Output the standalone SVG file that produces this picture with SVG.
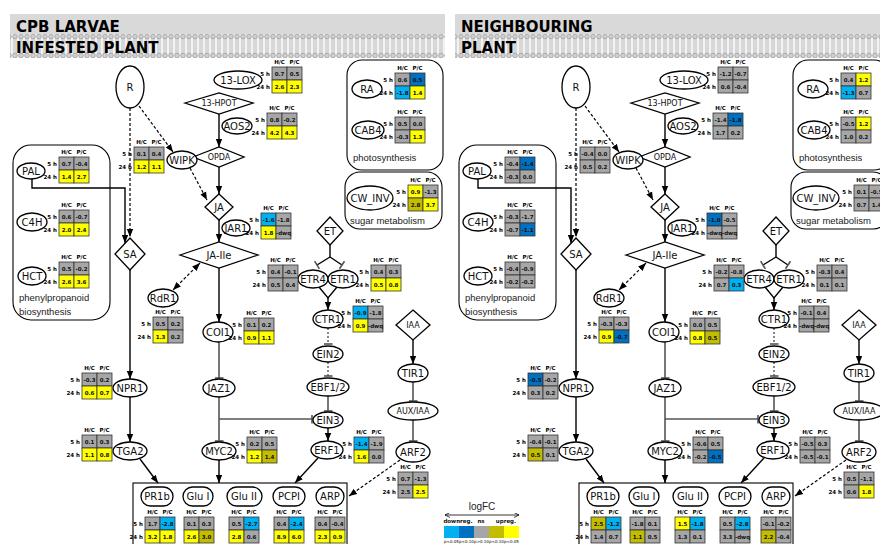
<svg xmlns="http://www.w3.org/2000/svg" width="880" height="544" viewBox="0 0 880 544">
<defs>
<style>
.nd{fill:#fff;stroke:#000;stroke-width:1.3}
.nl{font-family:"DejaVu Sans",Verdana,sans-serif;font-size:10px;text-anchor:middle;fill:#111}
.ns{font-family:"DejaVu Sans",Verdana,sans-serif;font-size:8px;text-anchor:middle;fill:#111}
.bx{fill:none;stroke:#000;stroke-width:1.1}
.bl{font-family:"Liberation Sans",Arial,sans-serif;font-size:9.5px;fill:#222}
.ttl{font-family:"DejaVu Sans",Verdana,sans-serif;font-size:15px;font-weight:bold;fill:#000}
.hd{font-family:"DejaVu Sans",Verdana,sans-serif;font-size:5.5px;font-weight:bold;text-anchor:middle;fill:#000}
.rl{font-family:"DejaVu Sans",Verdana,sans-serif;font-size:5.5px;font-weight:bold;text-anchor:end;fill:#000}
.v{font-family:"DejaVu Sans",Verdana,sans-serif;font-size:5.5px;font-weight:bold;text-anchor:middle;fill:#111}
.g{fill:#a6a6a6;stroke:#333;stroke-width:0.8}
.y{fill:#ffff00;stroke:#333;stroke-width:0.8}
.o{fill:#c4bc00;stroke:#333;stroke-width:0.8}
.lb{fill:#00b0f0;stroke:#333;stroke-width:0.8}
.db{fill:#0070c0;stroke:#333;stroke-width:0.8}
.ln{fill:none;stroke:#000;stroke-width:1.4}
.ds{fill:none;stroke:#000;stroke-width:1.2;stroke-dasharray:3 2}
.ih{fill:none;stroke:#555;stroke-width:1.6}
.ihd{fill:none;stroke:#555;stroke-width:1.4;stroke-dasharray:2 2}
.a{marker-end:url(#ar)}
.t{marker-end:url(#tb)}
</style>
<marker id="ar" viewBox="0 0 10 10" refX="10" refY="5" markerWidth="8" markerHeight="8" markerUnits="userSpaceOnUse" orient="auto-start-reverse"><path d="M0,1 L10,5 L0,9 z" fill="#000"/></marker>
<marker id="tb" viewBox="0 0 10 10" refX="5" refY="5" markerWidth="9" markerHeight="9" markerUnits="userSpaceOnUse" orient="auto"><path d="M5,0 V10" stroke="#555" stroke-width="1.8"/></marker>
<marker id="lar" viewBox="0 0 10 10" refX="10" refY="5" markerWidth="5" markerHeight="5" markerUnits="userSpaceOnUse" orient="auto-start-reverse"><path d="M0,0 L10,5 L0,10" fill="none" stroke="#000" stroke-width="1.5"/></marker>
<pattern id="mem" width="6" height="24" patternUnits="userSpaceOnUse" x="0" y="34">
<rect width="6" height="24" fill="#f2f2f2"/>
<line x1="2" y1="4" x2="2" y2="20" stroke="#b0b0b0" stroke-width="0.8"/>
<line x1="4" y1="4" x2="4" y2="20" stroke="#b0b0b0" stroke-width="0.8"/>
<circle cx="3" cy="2.5" r="2.3" fill="#d0d0d0" stroke="#8a8a8a" stroke-width="0.6"/>
<circle cx="3" cy="21.5" r="2.3" fill="#d0d0d0" stroke="#8a8a8a" stroke-width="0.6"/>
</pattern>
</defs>
<rect width="880" height="544" fill="#fff"/>

<!-- ================= LEFT PANEL ================= -->
<g id="panel-infested">
<g id="L-header">
<rect x="10" y="14" width="435" height="20" fill="#d9d9d9"/>
<rect x="10" y="34" width="435" height="24" fill="url(#mem)"/>
<text class="ttl" x="16" y="32">CPB LARVAE</text>
<text class="ttl" x="16" y="53">INFESTED PLANT</text>
</g>
<g id="L-boxes">
<rect class="bx" x="13" y="145" width="97" height="175" rx="18"/>
<text class="bl" x="19" y="301">phenylpropanoid</text>
<text class="bl" x="19" y="315">biosynthesis</text>
<rect class="bx" x="347" y="60" width="96" height="110" rx="15"/>
<text class="bl" x="353" y="161">photosynthesis</text>
<rect class="bx" x="345" y="172" width="97" height="57" rx="15"/>
<text class="bl" x="350" y="224">sugar metabolism</text>
<rect class="bx" x="133" y="483" width="214" height="75"/>
</g>
<g id="L-connectors">
<path class="ds a" d="M139,106 L173,152"/>
<path class="ds a" d="M130,108 V237"/>
<path class="ln a" d="M32,179 V188 H125 V243"/>
<path class="ds a" d="M190,168 L207,200"/>
<path class="ln a" d="M219,114 V147"/>
<path class="ln a" d="M219,167 V194"/>
<path class="ln a" d="M219,220 V242"/>
<path class="ln a" d="M219,268 V322"/>
<path class="ih t" d="M219,342 V378"/>
<path class="ih t" d="M219,397 V441"/>
<path class="ih t" d="M219,419 H312"/>
<path class="ln a" d="M219,460 V483"/>
<path class="ds a" d="M200,263 L173,290" style="marker-start:url(#ar)"/>
<path class="ln a" d="M130,270 V379"/>
<path class="ln a" d="M130,397 V442"/>
<path class="ln a" d="M140,459 L158,483"/>
<path class="ln" d="M330,245 V257"/>
<path class="ln t" d="M330,257 L317,265"/>
<path class="ln t" d="M330,257 L342,265"/>
<path class="ln" d="M319,287 L328,298 L337,287"/>
<path class="ln a" d="M328,297 V310"/>
<path class="ihd t" d="M328,328 V344"/>
<path class="ihd t" d="M328,362 V376"/>
<path class="ih t" d="M328,396 V411"/>
<path class="ln a" d="M328,428 V441"/>
<path class="ln a" d="M318,458 L295,483"/>
<path class="ln a" d="M413,340 V364"/>
<path class="ih t" d="M413,382 V401"/>
<path class="ih t" d="M413,420 V441"/>
<path class="ds a" d="M400,460 L349,496"/>
</g>
<g id="L-R"><ellipse class="nd" cx="130" cy="87" rx="14" ry="21"/><text class="nl" x="130" y="91">R</text></g>
<g id="L-13LOX"><ellipse class="nd" cx="238" cy="80" rx="24" ry="9"/><text class="nl" x="238" y="84">13-LOX</text></g>
<g id="L-13HPOT"><polygon class="nd" points="185,103 219,93 253,103 219,114"/><text class="ns" x="219" y="106">13-HPOT</text></g>
<g id="L-AOS2"><ellipse class="nd" cx="237" cy="126" rx="15" ry="8"/><text class="nl" x="237" y="130">AOS2</text></g>
<g id="L-OPDA"><polygon class="nd" points="193,157 219,147 244,157 219,167"/><text class="ns" x="219" y="160">OPDA</text></g>
<g id="L-WIPK"><ellipse class="nd" cx="182" cy="160" rx="15" ry="9"/><text class="nl" x="182" y="164">WIPK</text></g>
<g id="L-JA"><polygon class="nd" points="219,194 233,207 219,220 205,207"/><text class="nl" x="219" y="211">JA</text></g>
<g id="L-JAR1"><ellipse class="nd" cx="236" cy="228" rx="14" ry="8"/><text class="nl" x="236" y="232">JAR1</text></g>
<g id="L-JAIle"><polygon class="nd" points="180,255 219,242 258,255 219,268"/><text class="nl" x="219" y="259">JA-Ile</text></g>
<g id="L-ET"><polygon class="nd" points="330,217 343,231 330,245 317,231"/><text class="nl" x="330" y="235">ET</text></g>
<g id="L-ETR4"><ellipse class="nd" cx="313" cy="279" rx="15" ry="9"/><text class="nl" x="313" y="283">ETR4</text></g>
<g id="L-ETR1"><ellipse class="nd" cx="343" cy="279" rx="15" ry="9"/><text class="nl" x="343" y="283">ETR1</text></g>
<g id="L-CTR1"><ellipse class="nd" cx="328" cy="319" rx="15" ry="9"/><text class="nl" x="328" y="323">CTR1</text></g>
<g id="L-IAA"><polygon class="nd" points="413,310 430,325 413,340 396,325"/><text class="ns" x="413" y="328">IAA</text></g>
<g id="L-COI1"><ellipse class="nd" cx="218" cy="332" rx="15" ry="10"/><text class="nl" x="218" y="336">COI1</text></g>
<g id="L-RdR1"><ellipse class="nd" cx="163" cy="298" rx="15" ry="9"/><text class="nl" x="163" y="302">RdR1</text></g>
<g id="L-SA"><polygon class="nd" points="130,238 145,254 130,270 115,254"/><text class="nl" x="130" y="258">SA</text></g>
<g id="L-PAL"><ellipse class="nd" cx="31" cy="171" rx="14" ry="8"/><text class="nl" x="31" y="175">PAL</text></g>
<g id="L-C4H"><ellipse class="nd" cx="32" cy="222" rx="15" ry="9"/><text class="nl" x="32" y="226">C4H</text></g>
<g id="L-HCT"><ellipse class="nd" cx="32" cy="276" rx="14" ry="9"/><text class="nl" x="32" y="280">HCT</text></g>
<g id="L-RA"><ellipse class="nd" cx="367" cy="89" rx="15" ry="9"/><text class="nl" x="367" y="93">RA</text></g>
<g id="L-CAB4"><ellipse class="nd" cx="368" cy="130" rx="16" ry="9"/><text class="nl" x="368" y="134">CAB4</text></g>
<g id="L-CWINV"><ellipse class="nd" cx="370" cy="198" rx="23" ry="12"/><text class="nl" x="370" y="202">CW_INV</text></g>
<g id="L-NPR1"><ellipse class="nd" cx="130" cy="388" rx="17" ry="9"/><text class="nl" x="130" y="392">NPR1</text></g>
<g id="L-TGA2"><ellipse class="nd" cx="130" cy="451" rx="17" ry="9"/><text class="nl" x="130" y="455">TGA2</text></g>
<g id="L-JAZ1"><ellipse class="nd" cx="219" cy="388" rx="16" ry="9"/><text class="nl" x="219" y="392">JAZ1</text></g>
<g id="L-MYC2"><ellipse class="nd" cx="219" cy="451" rx="17" ry="9"/><text class="nl" x="219" y="455">MYC2</text></g>
<g id="L-EIN2"><ellipse class="nd" cx="328" cy="354" rx="15" ry="8"/><text class="nl" x="328" y="358">EIN2</text></g>
<g id="L-EBF12"><ellipse class="nd" cx="328" cy="387" rx="21" ry="9"/><text class="nl" x="328" y="391">EBF1/2</text></g>
<g id="L-EIN3"><ellipse class="nd" cx="328" cy="420" rx="15" ry="8"/><text class="nl" x="328" y="424">EIN3</text></g>
<g id="L-ERF1"><ellipse class="nd" cx="327" cy="450" rx="16" ry="9"/><text class="nl" x="327" y="454">ERF1</text></g>
<g id="L-TIR1"><ellipse class="nd" cx="413" cy="373" rx="15" ry="9"/><text class="nl" x="413" y="377">TIR1</text></g>
<g id="L-AUXIAA"><ellipse class="nd" cx="413" cy="411" rx="25" ry="9"/><text class="ns" x="413" y="414">AUX/IAA</text></g>
<g id="L-ARF2"><ellipse class="nd" cx="413" cy="452" rx="17" ry="10"/><text class="nl" x="413" y="456">ARF2</text></g>
<g id="L-PR1b"><rect class="nd" x="141" y="487" width="32" height="19" rx="9.5"/><text class="nl" x="157" y="500">PR1b</text></g>
<g id="L-GluI"><rect class="nd" x="183" y="487" width="30" height="19" rx="9.5"/><text class="nl" x="198" y="500">Glu I</text></g>
<g id="L-GluII"><rect class="nd" x="227" y="487" width="35" height="19" rx="9.5"/><text class="nl" x="244" y="500">Glu II</text></g>
<g id="L-PCPI"><rect class="nd" x="273" y="487" width="32" height="19" rx="9.5"/><text class="nl" x="289" y="500">PCPI</text></g>
<g id="L-ARP"><rect class="nd" x="316" y="487" width="28" height="19" rx="9.5"/><text class="nl" x="330" y="500">ARP</text></g>

<g id="L-tables">
<g transform="translate(134,147)"><text class="hd" x="7.5" y="-3">H/C</text><text class="hd" x="22.5" y="-3">P/C</text><text class="rl" x="-2" y="9">5 h</text><text class="rl" x="-2" y="22">24 h</text><rect class="g" width="15" height="13"/><rect class="g" x="15" width="15" height="13"/><rect class="y" y="13" width="15" height="13"/><rect class="y" x="15" y="13" width="15" height="13"/><text class="v" x="7.5" y="9">0.1</text><text class="v" x="22.5" y="9">0.4</text><text class="v" x="7.5" y="22">1.2</text><text class="v" x="22.5" y="22">1.1</text></g>
<g transform="translate(272,67)"><text class="hd" x="7.5" y="-3">H/C</text><text class="hd" x="22.5" y="-3">P/C</text><text class="rl" x="-2" y="9">5 h</text><text class="rl" x="-2" y="22">24 h</text><rect class="g" width="15" height="13"/><rect class="g" x="15" width="15" height="13"/><rect class="y" y="13" width="15" height="13"/><rect class="y" x="15" y="13" width="15" height="13"/><text class="v" x="7.5" y="9">0.7</text><text class="v" x="22.5" y="9">0.5</text><text class="v" x="7.5" y="22">2.6</text><text class="v" x="22.5" y="22">2.3</text></g>
<g transform="translate(267,113)"><text class="hd" x="7.5" y="-3">H/C</text><text class="hd" x="22.5" y="-3">P/C</text><text class="rl" x="-2" y="9">5 h</text><text class="rl" x="-2" y="22">24 h</text><rect class="g" width="15" height="13"/><rect class="g" x="15" width="15" height="13"/><rect class="y" y="13" width="15" height="13"/><rect class="y" x="15" y="13" width="15" height="13"/><text class="v" x="7.5" y="9">0.8</text><text class="v" x="22.5" y="9">-0.2</text><text class="v" x="7.5" y="22">4.2</text><text class="v" x="22.5" y="22">4.3</text></g>
<g transform="translate(395,73)"><text class="hd" x="7.5" y="-3">H/C</text><text class="hd" x="22.5" y="-3">P/C</text><text class="rl" x="-2" y="9">5 h</text><text class="rl" x="-2" y="22">24 h</text><rect class="g" width="15" height="13"/><rect class="db" x="15" width="15" height="13"/><rect class="lb" y="13" width="15" height="13"/><rect class="y" x="15" y="13" width="15" height="13"/><text class="v" x="7.5" y="9">0.6</text><text class="v" x="22.5" y="9">0.5</text><text class="v" x="7.5" y="22">-1.8</text><text class="v" x="22.5" y="22">1.4</text></g>
<g transform="translate(395,117)"><text class="hd" x="7.5" y="-3">H/C</text><text class="hd" x="22.5" y="-3">P/C</text><text class="rl" x="-2" y="9">5 h</text><text class="rl" x="-2" y="22">24 h</text><rect class="g" width="15" height="13"/><rect class="g" x="15" width="15" height="13"/><rect class="g" y="13" width="15" height="13"/><rect class="y" x="15" y="13" width="15" height="13"/><text class="v" x="7.5" y="9">0.5</text><text class="v" x="22.5" y="9">0.0</text><text class="v" x="7.5" y="22">-0.3</text><text class="v" x="22.5" y="22">1.3</text></g>
<g transform="translate(408,185)"><text class="hd" x="7.5" y="-3">H/C</text><text class="hd" x="22.5" y="-3">P/C</text><text class="rl" x="-2" y="9">5 h</text><text class="rl" x="-2" y="22">24 h</text><rect class="y" width="15" height="13"/><rect class="g" x="15" width="15" height="13"/><rect class="o" y="13" width="15" height="13"/><rect class="y" x="15" y="13" width="15" height="13"/><text class="v" x="7.5" y="9">0.9</text><text class="v" x="22.5" y="9">-1.3</text><text class="v" x="7.5" y="22">2.8</text><text class="v" x="22.5" y="22">3.7</text></g>
<g transform="translate(59,157)"><text class="hd" x="7.5" y="-3">H/C</text><text class="hd" x="22.5" y="-3">P/C</text><text class="rl" x="-2" y="9">5 h</text><text class="rl" x="-2" y="22">24 h</text><rect class="g" width="15" height="13"/><rect class="g" x="15" width="15" height="13"/><rect class="y" y="13" width="15" height="13"/><rect class="y" x="15" y="13" width="15" height="13"/><text class="v" x="7.5" y="9">0.7</text><text class="v" x="22.5" y="9">-0.4</text><text class="v" x="7.5" y="22">1.4</text><text class="v" x="22.5" y="22">2.7</text></g>
<g transform="translate(59,210)"><text class="hd" x="7.5" y="-3">H/C</text><text class="hd" x="22.5" y="-3">P/C</text><text class="rl" x="-2" y="9">5 h</text><text class="rl" x="-2" y="22">24 h</text><rect class="g" width="15" height="13"/><rect class="g" x="15" width="15" height="13"/><rect class="y" y="13" width="15" height="13"/><rect class="y" x="15" y="13" width="15" height="13"/><text class="v" x="7.5" y="9">0.6</text><text class="v" x="22.5" y="9">-0.7</text><text class="v" x="7.5" y="22">2.0</text><text class="v" x="22.5" y="22">2.4</text></g>
<g transform="translate(59,262)"><text class="hd" x="7.5" y="-3">H/C</text><text class="hd" x="22.5" y="-3">P/C</text><text class="rl" x="-2" y="9">5 h</text><text class="rl" x="-2" y="22">24 h</text><rect class="g" width="15" height="13"/><rect class="g" x="15" width="15" height="13"/><rect class="y" y="13" width="15" height="13"/><rect class="y" x="15" y="13" width="15" height="13"/><text class="v" x="7.5" y="9">0.5</text><text class="v" x="22.5" y="9">-0.2</text><text class="v" x="7.5" y="22">2.6</text><text class="v" x="22.5" y="22">3.6</text></g>
<g transform="translate(261,213)"><text class="hd" x="7.5" y="-3">H/C</text><text class="hd" x="22.5" y="-3">P/C</text><text class="rl" x="-2" y="9">5 h</text><text class="rl" x="-2" y="22">24 h</text><rect class="lb" width="15" height="13"/><rect class="g" x="15" width="15" height="13"/><rect class="y" y="13" width="15" height="13"/><rect class="g" x="15" y="13" width="15" height="13"/><text class="v" x="7.5" y="9">-1.6</text><text class="v" x="22.5" y="9">-1.8</text><text class="v" x="7.5" y="22">1.8</text><text class="v" x="22.5" y="22">-dwq</text></g>
<g transform="translate(268,265)"><text class="hd" x="7.5" y="-3">H/C</text><text class="hd" x="22.5" y="-3">P/C</text><text class="rl" x="-2" y="9">5 h</text><text class="rl" x="-2" y="22">24 h</text><rect class="g" width="15" height="13"/><rect class="g" x="15" width="15" height="13"/><rect class="g" y="13" width="15" height="13"/><rect class="g" x="15" y="13" width="15" height="13"/><text class="v" x="7.5" y="9">0.4</text><text class="v" x="22.5" y="9">-0.1</text><text class="v" x="7.5" y="22">0.5</text><text class="v" x="22.5" y="22">0.4</text></g>
<g transform="translate(371,265)"><text class="hd" x="7.5" y="-3">H/C</text><text class="hd" x="22.5" y="-3">P/C</text><text class="rl" x="-2" y="9">5 h</text><text class="rl" x="-2" y="22">24 h</text><rect class="g" width="15" height="13"/><rect class="g" x="15" width="15" height="13"/><rect class="y" y="13" width="15" height="13"/><rect class="y" x="15" y="13" width="15" height="13"/><text class="v" x="7.5" y="9">0.4</text><text class="v" x="22.5" y="9">0.3</text><text class="v" x="7.5" y="22">0.5</text><text class="v" x="22.5" y="22">0.8</text></g>
<g transform="translate(353,306)"><text class="hd" x="7.5" y="-3">H/C</text><text class="hd" x="22.5" y="-3">P/C</text><text class="rl" x="-2" y="9">5 h</text><text class="rl" x="-2" y="22">24 h</text><rect class="lb" width="15" height="13"/><rect class="g" x="15" width="15" height="13"/><rect class="y" y="13" width="15" height="13"/><rect class="g" x="15" y="13" width="15" height="13"/><text class="v" x="7.5" y="9">-0.9</text><text class="v" x="22.5" y="9">-1.8</text><text class="v" x="7.5" y="22">0.9</text><text class="v" x="22.5" y="22">-dwq</text></g>
<g transform="translate(244,318)"><text class="hd" x="7.5" y="-3">H/C</text><text class="hd" x="22.5" y="-3">P/C</text><text class="rl" x="-2" y="9">5 h</text><text class="rl" x="-2" y="22">24 h</text><rect class="g" width="15" height="13"/><rect class="g" x="15" width="15" height="13"/><rect class="y" y="13" width="15" height="13"/><rect class="y" x="15" y="13" width="15" height="13"/><text class="v" x="7.5" y="9">0.1</text><text class="v" x="22.5" y="9">0.2</text><text class="v" x="7.5" y="22">0.9</text><text class="v" x="22.5" y="22">1.1</text></g>
<g transform="translate(153,317)"><text class="hd" x="7.5" y="-3">H/C</text><text class="hd" x="22.5" y="-3">P/C</text><text class="rl" x="-2" y="9">5 h</text><text class="rl" x="-2" y="22">24 h</text><rect class="g" width="15" height="13"/><rect class="g" x="15" width="15" height="13"/><rect class="y" y="13" width="15" height="13"/><rect class="g" x="15" y="13" width="15" height="13"/><text class="v" x="7.5" y="9">0.5</text><text class="v" x="22.5" y="9">0.2</text><text class="v" x="7.5" y="22">1.3</text><text class="v" x="22.5" y="22">0.2</text></g>
<g transform="translate(82,373)"><text class="hd" x="7.5" y="-3">H/C</text><text class="hd" x="22.5" y="-3">P/C</text><text class="rl" x="-2" y="9">5 h</text><text class="rl" x="-2" y="22">24 h</text><rect class="g" width="15" height="13"/><rect class="g" x="15" width="15" height="13"/><rect class="y" y="13" width="15" height="13"/><rect class="y" x="15" y="13" width="15" height="13"/><text class="v" x="7.5" y="9">-0.3</text><text class="v" x="22.5" y="9">0.2</text><text class="v" x="7.5" y="22">0.6</text><text class="v" x="22.5" y="22">0.7</text></g>
<g transform="translate(82,435)"><text class="hd" x="7.5" y="-3">H/C</text><text class="hd" x="22.5" y="-3">P/C</text><text class="rl" x="-2" y="9">5 h</text><text class="rl" x="-2" y="22">24 h</text><rect class="g" width="15" height="13"/><rect class="g" x="15" width="15" height="13"/><rect class="y" y="13" width="15" height="13"/><rect class="y" x="15" y="13" width="15" height="13"/><text class="v" x="7.5" y="9">0.1</text><text class="v" x="22.5" y="9">0.3</text><text class="v" x="7.5" y="22">1.1</text><text class="v" x="22.5" y="22">0.8</text></g>
<g transform="translate(247,437)"><text class="hd" x="7.5" y="-3">H/C</text><text class="hd" x="22.5" y="-3">P/C</text><text class="rl" x="-2" y="9">5 h</text><text class="rl" x="-2" y="22">24 h</text><rect class="g" width="15" height="13"/><rect class="g" x="15" width="15" height="13"/><rect class="y" y="13" width="15" height="13"/><rect class="o" x="15" y="13" width="15" height="13"/><text class="v" x="7.5" y="9">0.2</text><text class="v" x="22.5" y="9">0.5</text><text class="v" x="7.5" y="22">1.2</text><text class="v" x="22.5" y="22">1.4</text></g>
<g transform="translate(354,437)"><text class="hd" x="7.5" y="-3">H/C</text><text class="hd" x="22.5" y="-3">P/C</text><text class="rl" x="-2" y="9">5 h</text><text class="rl" x="-2" y="22">24 h</text><rect class="lb" width="15" height="13"/><rect class="g" x="15" width="15" height="13"/><rect class="y" y="13" width="15" height="13"/><rect class="g" x="15" y="13" width="15" height="13"/><text class="v" x="7.5" y="9">-1.4</text><text class="v" x="22.5" y="9">-1.9</text><text class="v" x="7.5" y="22">1.6</text><text class="v" x="22.5" y="22">0.0</text></g>
<g transform="translate(398,472)"><text class="hd" x="7.5" y="-3">H/C</text><text class="hd" x="22.5" y="-3">P/C</text><text class="rl" x="-2" y="9">5 h</text><text class="rl" x="-2" y="22">24 h</text><rect class="g" width="15" height="13"/><rect class="g" x="15" width="15" height="13"/><rect class="g" y="13" width="15" height="13"/><rect class="y" x="15" y="13" width="15" height="13"/><text class="v" x="7.5" y="9">0.7</text><text class="v" x="22.5" y="9">-1.3</text><text class="v" x="7.5" y="22">2.5</text><text class="v" x="22.5" y="22">2.5</text></g>
<g transform="translate(145,517)"><text class="hd" x="7.5" y="-3">H/C</text><text class="hd" x="22.5" y="-3">P/C</text><text class="rl" x="-2" y="9">5 h</text><text class="rl" x="-2" y="22">24 h</text><rect class="g" width="15" height="13"/><rect class="lb" x="15" width="15" height="13"/><rect class="y" y="13" width="15" height="13"/><rect class="y" x="15" y="13" width="15" height="13"/><text class="v" x="7.5" y="9">1.7</text><text class="v" x="22.5" y="9">-2.8</text><text class="v" x="7.5" y="22">3.2</text><text class="v" x="22.5" y="22">1.8</text></g>
<g transform="translate(184,517)"><text class="hd" x="7.5" y="-3">H/C</text><text class="hd" x="22.5" y="-3">P/C</text><rect class="g" width="15" height="13"/><rect class="g" x="15" width="15" height="13"/><rect class="y" y="13" width="15" height="13"/><rect class="o" x="15" y="13" width="15" height="13"/><text class="v" x="7.5" y="9">0.1</text><text class="v" x="22.5" y="9">0.3</text><text class="v" x="7.5" y="22">2.6</text><text class="v" x="22.5" y="22">3.0</text></g>
<g transform="translate(229,517)"><text class="hd" x="7.5" y="-3">H/C</text><text class="hd" x="22.5" y="-3">P/C</text><rect class="g" width="15" height="13"/><rect class="lb" x="15" width="15" height="13"/><rect class="y" y="13" width="15" height="13"/><rect class="g" x="15" y="13" width="15" height="13"/><text class="v" x="7.5" y="9">0.5</text><text class="v" x="22.5" y="9">-2.7</text><text class="v" x="7.5" y="22">2.8</text><text class="v" x="22.5" y="22">0.6</text></g>
<g transform="translate(274,517)"><text class="hd" x="7.5" y="-3">H/C</text><text class="hd" x="22.5" y="-3">P/C</text><rect class="g" width="15" height="13"/><rect class="lb" x="15" width="15" height="13"/><rect class="y" y="13" width="15" height="13"/><rect class="y" x="15" y="13" width="15" height="13"/><text class="v" x="7.5" y="9">0.4</text><text class="v" x="22.5" y="9">-2.4</text><text class="v" x="7.5" y="22">8.9</text><text class="v" x="22.5" y="22">6.0</text></g>
<g transform="translate(315,517)"><text class="hd" x="7.5" y="-3">H/C</text><text class="hd" x="22.5" y="-3">P/C</text><rect class="g" width="15" height="13"/><rect class="g" x="15" width="15" height="13"/><rect class="y" y="13" width="15" height="13"/><rect class="y" x="15" y="13" width="15" height="13"/><text class="v" x="7.5" y="9">0.4</text><text class="v" x="22.5" y="9">-0.4</text><text class="v" x="7.5" y="22">2.3</text><text class="v" x="22.5" y="22">0.9</text></g>
</g>
</g>

<!-- ================= RIGHT PANEL ================= -->
<g id="panel-neighbouring" transform="translate(446,0)">
<g id="N-header">
<rect x="9" y="14" width="430" height="20" fill="#d9d9d9"/>
<rect x="9" y="34" width="430" height="24" fill="url(#mem)"/>
<text class="ttl" x="15" y="32">NEIGHBOURING</text>
<text class="ttl" x="15" y="53">PLANT</text>
</g>
<g id="N-boxes">
<rect class="bx" x="13" y="145" width="97" height="175" rx="18"/>
<text class="bl" x="19" y="301">phenylpropanoid</text>
<text class="bl" x="19" y="315">biosynthesis</text>
<rect class="bx" x="347" y="60" width="96" height="110" rx="15"/>
<text class="bl" x="353" y="161">photosynthesis</text>
<rect class="bx" x="345" y="172" width="97" height="57" rx="15"/>
<text class="bl" x="350" y="224">sugar metabolism</text>
<rect class="bx" x="133" y="483" width="214" height="75"/>
</g>
<g id="N-connectors">
<path class="ds a" d="M139,106 L173,152"/>
<path class="ds a" d="M130,108 V237"/>
<path class="ln a" d="M32,179 V188 H125 V243"/>
<path class="ds a" d="M190,168 L207,200"/>
<path class="ln a" d="M219,114 V147"/>
<path class="ln a" d="M219,167 V194"/>
<path class="ln a" d="M219,220 V242"/>
<path class="ln a" d="M219,268 V322"/>
<path class="ih t" d="M219,342 V378"/>
<path class="ih t" d="M219,397 V441"/>
<path class="ih t" d="M219,419 H312"/>
<path class="ln a" d="M219,460 V483"/>
<path class="ds a" d="M200,263 L173,290" style="marker-start:url(#ar)"/>
<path class="ln a" d="M130,270 V379"/>
<path class="ln a" d="M130,397 V442"/>
<path class="ln a" d="M140,459 L158,483"/>
<path class="ln" d="M330,245 V257"/>
<path class="ln t" d="M330,257 L317,265"/>
<path class="ln t" d="M330,257 L342,265"/>
<path class="ln" d="M319,287 L328,298 L337,287"/>
<path class="ln a" d="M328,297 V310"/>
<path class="ihd t" d="M328,328 V344"/>
<path class="ihd t" d="M328,362 V376"/>
<path class="ih t" d="M328,396 V411"/>
<path class="ln a" d="M328,428 V441"/>
<path class="ln a" d="M318,458 L295,483"/>
<path class="ln a" d="M413,340 V364"/>
<path class="ih t" d="M413,382 V401"/>
<path class="ih t" d="M413,420 V441"/>
<path class="ds a" d="M400,460 L349,496"/>
</g>
<g id="N-R"><ellipse class="nd" cx="130" cy="87" rx="14" ry="21"/><text class="nl" x="130" y="91">R</text></g>
<g id="N-13LOX"><ellipse class="nd" cx="238" cy="80" rx="24" ry="9"/><text class="nl" x="238" y="84">13-LOX</text></g>
<g id="N-13HPOT"><polygon class="nd" points="185,103 219,93 253,103 219,114"/><text class="ns" x="219" y="106">13-HPOT</text></g>
<g id="N-AOS2"><ellipse class="nd" cx="237" cy="126" rx="15" ry="8"/><text class="nl" x="237" y="130">AOS2</text></g>
<g id="N-OPDA"><polygon class="nd" points="193,157 219,147 244,157 219,167"/><text class="ns" x="219" y="160">OPDA</text></g>
<g id="N-WIPK"><ellipse class="nd" cx="182" cy="160" rx="15" ry="9"/><text class="nl" x="182" y="164">WIPK</text></g>
<g id="N-JA"><polygon class="nd" points="219,194 233,207 219,220 205,207"/><text class="nl" x="219" y="211">JA</text></g>
<g id="N-JAR1"><ellipse class="nd" cx="236" cy="228" rx="14" ry="8"/><text class="nl" x="236" y="232">JAR1</text></g>
<g id="N-JAIle"><polygon class="nd" points="180,255 219,242 258,255 219,268"/><text class="nl" x="219" y="259">JA-Ile</text></g>
<g id="N-ET"><polygon class="nd" points="330,217 343,231 330,245 317,231"/><text class="nl" x="330" y="235">ET</text></g>
<g id="N-ETR4"><ellipse class="nd" cx="313" cy="279" rx="15" ry="9"/><text class="nl" x="313" y="283">ETR4</text></g>
<g id="N-ETR1"><ellipse class="nd" cx="343" cy="279" rx="15" ry="9"/><text class="nl" x="343" y="283">ETR1</text></g>
<g id="N-CTR1"><ellipse class="nd" cx="328" cy="319" rx="15" ry="9"/><text class="nl" x="328" y="323">CTR1</text></g>
<g id="N-IAA"><polygon class="nd" points="413,310 430,325 413,340 396,325"/><text class="ns" x="413" y="328">IAA</text></g>
<g id="N-COI1"><ellipse class="nd" cx="218" cy="332" rx="15" ry="10"/><text class="nl" x="218" y="336">COI1</text></g>
<g id="N-RdR1"><ellipse class="nd" cx="163" cy="298" rx="15" ry="9"/><text class="nl" x="163" y="302">RdR1</text></g>
<g id="N-SA"><polygon class="nd" points="130,238 145,254 130,270 115,254"/><text class="nl" x="130" y="258">SA</text></g>
<g id="N-PAL"><ellipse class="nd" cx="31" cy="171" rx="14" ry="8"/><text class="nl" x="31" y="175">PAL</text></g>
<g id="N-C4H"><ellipse class="nd" cx="32" cy="222" rx="15" ry="9"/><text class="nl" x="32" y="226">C4H</text></g>
<g id="N-HCT"><ellipse class="nd" cx="32" cy="276" rx="14" ry="9"/><text class="nl" x="32" y="280">HCT</text></g>
<g id="N-RA"><ellipse class="nd" cx="367" cy="89" rx="15" ry="9"/><text class="nl" x="367" y="93">RA</text></g>
<g id="N-CAB4"><ellipse class="nd" cx="368" cy="130" rx="16" ry="9"/><text class="nl" x="368" y="134">CAB4</text></g>
<g id="N-CWINV"><ellipse class="nd" cx="370" cy="198" rx="23" ry="12"/><text class="nl" x="370" y="202">CW_INV</text></g>
<g id="N-NPR1"><ellipse class="nd" cx="130" cy="388" rx="17" ry="9"/><text class="nl" x="130" y="392">NPR1</text></g>
<g id="N-TGA2"><ellipse class="nd" cx="130" cy="451" rx="17" ry="9"/><text class="nl" x="130" y="455">TGA2</text></g>
<g id="N-JAZ1"><ellipse class="nd" cx="219" cy="388" rx="16" ry="9"/><text class="nl" x="219" y="392">JAZ1</text></g>
<g id="N-MYC2"><ellipse class="nd" cx="219" cy="451" rx="17" ry="9"/><text class="nl" x="219" y="455">MYC2</text></g>
<g id="N-EIN2"><ellipse class="nd" cx="328" cy="354" rx="15" ry="8"/><text class="nl" x="328" y="358">EIN2</text></g>
<g id="N-EBF12"><ellipse class="nd" cx="328" cy="387" rx="21" ry="9"/><text class="nl" x="328" y="391">EBF1/2</text></g>
<g id="N-EIN3"><ellipse class="nd" cx="328" cy="420" rx="15" ry="8"/><text class="nl" x="328" y="424">EIN3</text></g>
<g id="N-ERF1"><ellipse class="nd" cx="327" cy="450" rx="16" ry="9"/><text class="nl" x="327" y="454">ERF1</text></g>
<g id="N-TIR1"><ellipse class="nd" cx="413" cy="373" rx="15" ry="9"/><text class="nl" x="413" y="377">TIR1</text></g>
<g id="N-AUXIAA"><ellipse class="nd" cx="413" cy="411" rx="25" ry="9"/><text class="ns" x="413" y="414">AUX/IAA</text></g>
<g id="N-ARF2"><ellipse class="nd" cx="413" cy="452" rx="17" ry="10"/><text class="nl" x="413" y="456">ARF2</text></g>
<g id="N-PR1b"><rect class="nd" x="141" y="487" width="32" height="19" rx="9.5"/><text class="nl" x="157" y="500">PR1b</text></g>
<g id="N-GluI"><rect class="nd" x="183" y="487" width="30" height="19" rx="9.5"/><text class="nl" x="198" y="500">Glu I</text></g>
<g id="N-GluII"><rect class="nd" x="227" y="487" width="35" height="19" rx="9.5"/><text class="nl" x="244" y="500">Glu II</text></g>
<g id="N-PCPI"><rect class="nd" x="273" y="487" width="32" height="19" rx="9.5"/><text class="nl" x="289" y="500">PCPI</text></g>
<g id="N-ARP"><rect class="nd" x="316" y="487" width="28" height="19" rx="9.5"/><text class="nl" x="330" y="500">ARP</text></g>

<g id="N-tables">
<g transform="translate(134,147)"><text class="hd" x="7.5" y="-3">H/C</text><text class="hd" x="22.5" y="-3">P/C</text><text class="rl" x="-2" y="9">5 h</text><text class="rl" x="-2" y="22">24 h</text><rect class="g" width="15" height="13"/><rect class="g" x="15" width="15" height="13"/><rect class="g" y="13" width="15" height="13"/><rect class="g" x="15" y="13" width="15" height="13"/><text class="v" x="7.5" y="9">-0.4</text><text class="v" x="22.5" y="9">0.0</text><text class="v" x="7.5" y="22">0.5</text><text class="v" x="22.5" y="22">0.2</text></g>
<g transform="translate(272,67)"><text class="hd" x="7.5" y="-3">H/C</text><text class="hd" x="22.5" y="-3">P/C</text><text class="rl" x="-2" y="9">5 h</text><text class="rl" x="-2" y="22">24 h</text><rect class="g" width="15" height="13"/><rect class="g" x="15" width="15" height="13"/><rect class="g" y="13" width="15" height="13"/><rect class="g" x="15" y="13" width="15" height="13"/><text class="v" x="7.5" y="9">-1.2</text><text class="v" x="22.5" y="9">-0.7</text><text class="v" x="7.5" y="22">0.6</text><text class="v" x="22.5" y="22">-0.4</text></g>
<g transform="translate(267,113)"><text class="hd" x="7.5" y="-3">H/C</text><text class="hd" x="22.5" y="-3">P/C</text><text class="rl" x="-2" y="9">5 h</text><text class="rl" x="-2" y="22">24 h</text><rect class="g" width="15" height="13"/><rect class="db" x="15" width="15" height="13"/><rect class="g" y="13" width="15" height="13"/><rect class="g" x="15" y="13" width="15" height="13"/><text class="v" x="7.5" y="9">-1.4</text><text class="v" x="22.5" y="9">-1.8</text><text class="v" x="7.5" y="22">1.7</text><text class="v" x="22.5" y="22">0.2</text></g>
<g transform="translate(395,73)"><text class="hd" x="7.5" y="-3">H/C</text><text class="hd" x="22.5" y="-3">P/C</text><text class="rl" x="-2" y="9">5 h</text><text class="rl" x="-2" y="22">24 h</text><rect class="g" width="15" height="13"/><rect class="y" x="15" width="15" height="13"/><rect class="lb" y="13" width="15" height="13"/><rect class="g" x="15" y="13" width="15" height="13"/><text class="v" x="7.5" y="9">0.4</text><text class="v" x="22.5" y="9">1.2</text><text class="v" x="7.5" y="22">-1.3</text><text class="v" x="22.5" y="22">0.7</text></g>
<g transform="translate(395,117)"><text class="hd" x="7.5" y="-3">H/C</text><text class="hd" x="22.5" y="-3">P/C</text><text class="rl" x="-2" y="9">5 h</text><text class="rl" x="-2" y="22">24 h</text><rect class="g" width="15" height="13"/><rect class="y" x="15" width="15" height="13"/><rect class="g" y="13" width="15" height="13"/><rect class="g" x="15" y="13" width="15" height="13"/><text class="v" x="7.5" y="9">-0.5</text><text class="v" x="22.5" y="9">1.2</text><text class="v" x="7.5" y="22">1.0</text><text class="v" x="22.5" y="22">0.2</text></g>
<g transform="translate(408,185)"><text class="hd" x="7.5" y="-3">H/C</text><text class="hd" x="22.5" y="-3">P/C</text><text class="rl" x="-2" y="9">5 h</text><text class="rl" x="-2" y="22">24 h</text><rect class="g" width="15" height="13"/><rect class="g" x="15" width="15" height="13"/><rect class="g" y="13" width="15" height="13"/><rect class="g" x="15" y="13" width="15" height="13"/><text class="v" x="7.5" y="9">0.1</text><text class="v" x="22.5" y="9">-0.5</text><text class="v" x="7.5" y="22">0.7</text><text class="v" x="22.5" y="22">1.4</text></g>
<g transform="translate(59,157)"><text class="hd" x="7.5" y="-3">H/C</text><text class="hd" x="22.5" y="-3">P/C</text><text class="rl" x="-2" y="9">5 h</text><text class="rl" x="-2" y="22">24 h</text><rect class="g" width="15" height="13"/><rect class="db" x="15" width="15" height="13"/><rect class="g" y="13" width="15" height="13"/><rect class="g" x="15" y="13" width="15" height="13"/><text class="v" x="7.5" y="9">-0.4</text><text class="v" x="22.5" y="9">-1.4</text><text class="v" x="7.5" y="22">-0.3</text><text class="v" x="22.5" y="22">0.0</text></g>
<g transform="translate(59,210)"><text class="hd" x="7.5" y="-3">H/C</text><text class="hd" x="22.5" y="-3">P/C</text><text class="rl" x="-2" y="9">5 h</text><text class="rl" x="-2" y="22">24 h</text><rect class="g" width="15" height="13"/><rect class="g" x="15" width="15" height="13"/><rect class="g" y="13" width="15" height="13"/><rect class="db" x="15" y="13" width="15" height="13"/><text class="v" x="7.5" y="9">-0.3</text><text class="v" x="22.5" y="9">-1.7</text><text class="v" x="7.5" y="22">-0.7</text><text class="v" x="22.5" y="22">-1.1</text></g>
<g transform="translate(59,262)"><text class="hd" x="7.5" y="-3">H/C</text><text class="hd" x="22.5" y="-3">P/C</text><text class="rl" x="-2" y="9">5 h</text><text class="rl" x="-2" y="22">24 h</text><rect class="g" width="15" height="13"/><rect class="g" x="15" width="15" height="13"/><rect class="g" y="13" width="15" height="13"/><rect class="g" x="15" y="13" width="15" height="13"/><text class="v" x="7.5" y="9">-0.4</text><text class="v" x="22.5" y="9">-0.9</text><text class="v" x="7.5" y="22">-0.2</text><text class="v" x="22.5" y="22">-0.2</text></g>
<g transform="translate(261,213)"><text class="hd" x="7.5" y="-3">H/C</text><text class="hd" x="22.5" y="-3">P/C</text><text class="rl" x="-2" y="9">5 h</text><text class="rl" x="-2" y="22">24 h</text><rect class="db" width="15" height="13"/><rect class="g" x="15" width="15" height="13"/><rect class="g" y="13" width="15" height="13"/><rect class="g" x="15" y="13" width="15" height="13"/><text class="v" x="7.5" y="9">-1.0</text><text class="v" x="22.5" y="9">-0.5</text><text class="v" x="7.5" y="22">-dwq</text><text class="v" x="22.5" y="22">-dwq</text></g>
<g transform="translate(268,265)"><text class="hd" x="7.5" y="-3">H/C</text><text class="hd" x="22.5" y="-3">P/C</text><text class="rl" x="-2" y="9">5 h</text><text class="rl" x="-2" y="22">24 h</text><rect class="g" width="15" height="13"/><rect class="g" x="15" width="15" height="13"/><rect class="g" y="13" width="15" height="13"/><rect class="lb" x="15" y="13" width="15" height="13"/><text class="v" x="7.5" y="9">-0.2</text><text class="v" x="22.5" y="9">-0.8</text><text class="v" x="7.5" y="22">0.7</text><text class="v" x="22.5" y="22">0.3</text></g>
<g transform="translate(371,265)"><text class="hd" x="7.5" y="-3">H/C</text><text class="hd" x="22.5" y="-3">P/C</text><text class="rl" x="-2" y="9">5 h</text><text class="rl" x="-2" y="22">24 h</text><rect class="g" width="15" height="13"/><rect class="g" x="15" width="15" height="13"/><rect class="g" y="13" width="15" height="13"/><rect class="g" x="15" y="13" width="15" height="13"/><text class="v" x="7.5" y="9">-0.3</text><text class="v" x="22.5" y="9">0.4</text><text class="v" x="7.5" y="22">0.1</text><text class="v" x="22.5" y="22">0.1</text></g>
<g transform="translate(353,306)"><text class="hd" x="7.5" y="-3">H/C</text><text class="hd" x="22.5" y="-3">P/C</text><text class="rl" x="-2" y="9">5 h</text><text class="rl" x="-2" y="22">24 h</text><rect class="g" width="15" height="13"/><rect class="g" x="15" width="15" height="13"/><rect class="g" y="13" width="15" height="13"/><rect class="g" x="15" y="13" width="15" height="13"/><text class="v" x="7.5" y="9">-0.1</text><text class="v" x="22.5" y="9">0.4</text><text class="v" x="7.5" y="22">-dwq</text><text class="v" x="22.5" y="22">-dwq</text></g>
<g transform="translate(244,318)"><text class="hd" x="7.5" y="-3">H/C</text><text class="hd" x="22.5" y="-3">P/C</text><text class="rl" x="-2" y="9">5 h</text><text class="rl" x="-2" y="22">24 h</text><rect class="g" width="15" height="13"/><rect class="g" x="15" width="15" height="13"/><rect class="y" y="13" width="15" height="13"/><rect class="o" x="15" y="13" width="15" height="13"/><text class="v" x="7.5" y="9">0.0</text><text class="v" x="22.5" y="9">0.5</text><text class="v" x="7.5" y="22">0.8</text><text class="v" x="22.5" y="22">0.5</text></g>
<g transform="translate(153,317)"><text class="hd" x="7.5" y="-3">H/C</text><text class="hd" x="22.5" y="-3">P/C</text><text class="rl" x="-2" y="9">5 h</text><text class="rl" x="-2" y="22">24 h</text><rect class="g" width="15" height="13"/><rect class="g" x="15" width="15" height="13"/><rect class="y" y="13" width="15" height="13"/><rect class="db" x="15" y="13" width="15" height="13"/><text class="v" x="7.5" y="9">-0.3</text><text class="v" x="22.5" y="9">-0.3</text><text class="v" x="7.5" y="22">0.9</text><text class="v" x="22.5" y="22">-0.7</text></g>
<g transform="translate(82,373)"><text class="hd" x="7.5" y="-3">H/C</text><text class="hd" x="22.5" y="-3">P/C</text><text class="rl" x="-2" y="9">5 h</text><text class="rl" x="-2" y="22">24 h</text><rect class="db" width="15" height="13"/><rect class="g" x="15" width="15" height="13"/><rect class="g" y="13" width="15" height="13"/><rect class="g" x="15" y="13" width="15" height="13"/><text class="v" x="7.5" y="9">-0.5</text><text class="v" x="22.5" y="9">-0.2</text><text class="v" x="7.5" y="22">0.3</text><text class="v" x="22.5" y="22">0.2</text></g>
<g transform="translate(82,435)"><text class="hd" x="7.5" y="-3">H/C</text><text class="hd" x="22.5" y="-3">P/C</text><text class="rl" x="-2" y="9">5 h</text><text class="rl" x="-2" y="22">24 h</text><rect class="g" width="15" height="13"/><rect class="g" x="15" width="15" height="13"/><rect class="o" y="13" width="15" height="13"/><rect class="g" x="15" y="13" width="15" height="13"/><text class="v" x="7.5" y="9">-0.4</text><text class="v" x="22.5" y="9">-0.1</text><text class="v" x="7.5" y="22">0.5</text><text class="v" x="22.5" y="22">0.1</text></g>
<g transform="translate(247,437)"><text class="hd" x="7.5" y="-3">H/C</text><text class="hd" x="22.5" y="-3">P/C</text><text class="rl" x="-2" y="9">5 h</text><text class="rl" x="-2" y="22">24 h</text><rect class="g" width="15" height="13"/><rect class="g" x="15" width="15" height="13"/><rect class="g" y="13" width="15" height="13"/><rect class="db" x="15" y="13" width="15" height="13"/><text class="v" x="7.5" y="9">-0.6</text><text class="v" x="22.5" y="9">0.5</text><text class="v" x="7.5" y="22">-0.2</text><text class="v" x="22.5" y="22">-0.5</text></g>
<g transform="translate(354,437)"><text class="hd" x="7.5" y="-3">H/C</text><text class="hd" x="22.5" y="-3">P/C</text><text class="rl" x="-2" y="9">5 h</text><text class="rl" x="-2" y="22">24 h</text><rect class="g" width="15" height="13"/><rect class="g" x="15" width="15" height="13"/><rect class="g" y="13" width="15" height="13"/><rect class="g" x="15" y="13" width="15" height="13"/><text class="v" x="7.5" y="9">-0.5</text><text class="v" x="22.5" y="9">0.3</text><text class="v" x="7.5" y="22">-0.5</text><text class="v" x="22.5" y="22">-0.1</text></g>
<g transform="translate(398,472)"><text class="hd" x="7.5" y="-3">H/C</text><text class="hd" x="22.5" y="-3">P/C</text><text class="rl" x="-2" y="9">5 h</text><text class="rl" x="-2" y="22">24 h</text><rect class="g" width="15" height="13"/><rect class="g" x="15" width="15" height="13"/><rect class="g" y="13" width="15" height="13"/><rect class="y" x="15" y="13" width="15" height="13"/><text class="v" x="7.5" y="9">0.5</text><text class="v" x="22.5" y="9">-1.1</text><text class="v" x="7.5" y="22">0.6</text><text class="v" x="22.5" y="22">1.8</text></g>
<g transform="translate(145,517)"><text class="hd" x="7.5" y="-3">H/C</text><text class="hd" x="22.5" y="-3">P/C</text><text class="rl" x="-2" y="9">5 h</text><text class="rl" x="-2" y="22">24 h</text><rect class="o" width="15" height="13"/><rect class="lb" x="15" width="15" height="13"/><rect class="g" y="13" width="15" height="13"/><rect class="g" x="15" y="13" width="15" height="13"/><text class="v" x="7.5" y="9">2.5</text><text class="v" x="22.5" y="9">-1.2</text><text class="v" x="7.5" y="22">1.4</text><text class="v" x="22.5" y="22">0.7</text></g>
<g transform="translate(184,517)"><text class="hd" x="7.5" y="-3">H/C</text><text class="hd" x="22.5" y="-3">P/C</text><rect class="g" width="15" height="13"/><rect class="g" x="15" width="15" height="13"/><rect class="o" y="13" width="15" height="13"/><rect class="g" x="15" y="13" width="15" height="13"/><text class="v" x="7.5" y="9">-1.8</text><text class="v" x="22.5" y="9">0.1</text><text class="v" x="7.5" y="22">1.1</text><text class="v" x="22.5" y="22">0.5</text></g>
<g transform="translate(229,517)"><text class="hd" x="7.5" y="-3">H/C</text><text class="hd" x="22.5" y="-3">P/C</text><rect class="y" width="15" height="13"/><rect class="lb" x="15" width="15" height="13"/><rect class="g" y="13" width="15" height="13"/><rect class="g" x="15" y="13" width="15" height="13"/><text class="v" x="7.5" y="9">1.5</text><text class="v" x="22.5" y="9">-1.8</text><text class="v" x="7.5" y="22">1.3</text><text class="v" x="22.5" y="22">0.1</text></g>
<g transform="translate(274,517)"><text class="hd" x="7.5" y="-3">H/C</text><text class="hd" x="22.5" y="-3">P/C</text><rect class="g" width="15" height="13"/><rect class="lb" x="15" width="15" height="13"/><rect class="g" y="13" width="15" height="13"/><rect class="g" x="15" y="13" width="15" height="13"/><text class="v" x="7.5" y="9">0.5</text><text class="v" x="22.5" y="9">-2.8</text><text class="v" x="7.5" y="22">3.3</text><text class="v" x="22.5" y="22">-dwq</text></g>
<g transform="translate(315,517)"><text class="hd" x="7.5" y="-3">H/C</text><text class="hd" x="22.5" y="-3">P/C</text><rect class="g" width="15" height="13"/><rect class="g" x="15" width="15" height="13"/><rect class="o" y="13" width="15" height="13"/><rect class="g" x="15" y="13" width="15" height="13"/><text class="v" x="7.5" y="9">-0.1</text><text class="v" x="22.5" y="9">-0.2</text><text class="v" x="7.5" y="22">2.2</text><text class="v" x="22.5" y="22">-0.4</text></g>
</g>
</g>

<g id="legend">
<text x="482" y="510" font-family="Liberation Sans, Arial, sans-serif" font-size="10" text-anchor="middle" fill="#222">logFC</text>
<line x1="445" y1="515" x2="519" y2="515" stroke="#000" stroke-width="0.8" marker-start="url(#lar)" marker-end="url(#lar)"/>
<text x="458" y="523" class="v">downreg.</text>
<text x="481" y="523" class="v">ns</text>
<text x="506" y="523" class="v">upreg.</text>
<rect x="444" y="526" width="15" height="12" fill="#00b0f0"/>
<rect x="459" y="526" width="15" height="12" fill="#0070c0"/>
<rect x="474" y="526" width="15" height="12" fill="#a6a6a6"/>
<rect x="489" y="526" width="15" height="12" fill="#c4bc00"/>
<rect x="504" y="526" width="15" height="12" fill="#ffff00"/>
<g font-family="DejaVu Sans, sans-serif" font-size="4" text-anchor="middle" fill="#000">
<text x="451.5" y="543">p&lt;0.05</text><text x="466.5" y="543">p&lt;0.10</text><text x="481.5" y="543">p&gt;0.10</text><text x="496.5" y="543">p&lt;0.10</text><text x="511.5" y="543">p&lt;0.05</text>
</g>
</g>
</svg>
